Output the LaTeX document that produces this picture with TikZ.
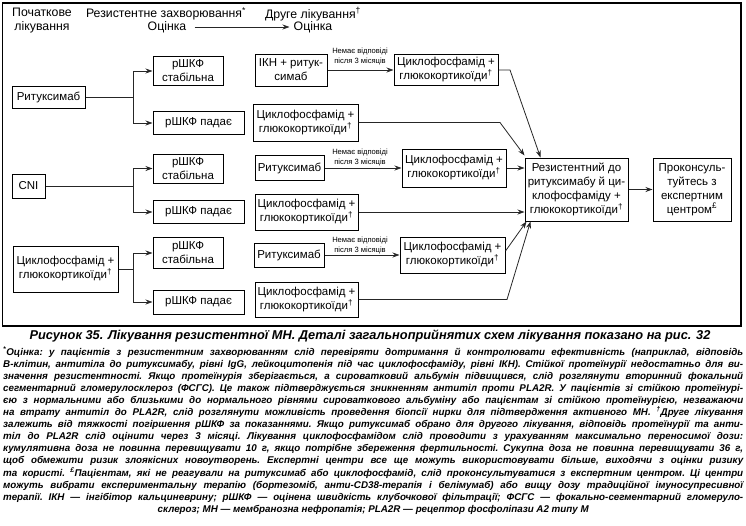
\documentclass[tikz,border=0pt]{standalone}
\usepackage{fontspec}
\setmainfont{Liberation Sans}
\usetikzlibrary{arrows.meta}
\newcommand\fl[1]{\makebox[740pt][s]{#1}\par}
\begin{document}
\begin{tikzpicture}[x=1pt,y=-1pt,
  bx/.style={draw, line width=1pt, align=center, inner sep=0pt, font=\fontsize{11.5}{14}\selectfont},
  hdr/.style={align=center, inner sep=1pt, font=\fontsize{12.3}{13.5}\selectfont},
  con/.style={line width=0.8pt, draw=black!85},
  arr/.style={con, -{Stealth[length=7pt,width=5pt]}},
  lbl/.style={align=center, inner sep=0pt, font=\fontsize{7.6}{10}\selectfont}]
\useasboundingbox (0,0) rectangle (746,525);
\draw[line width=1.3pt] (2.5,3) rectangle (741,326);
% header
\node[hdr] (h1) at (42,20.5) {Початкове\\лікування};
\node[hdr] (h2a) at (166,14) {Резистентне захворювання\textsuperscript{*}};
\node[hdr] (h2b) at (167,27) {Оцінка};
\node[hdr] (h3a) at (313,14) {Друге лікування\textsuperscript{†}};
\node[hdr] (h3b) at (313,27) {Оцінка};
\draw[arr, shorten <=7pt, shorten >=3pt] (h2b) -- (h3b);
% left column
\node[bx, minimum width=73pt, minimum height=22pt] (rit0) at (48.5,97) {Ритуксимаб};
\node[bx, minimum width=33pt, minimum height=24pt] (cni) at (28.5,186) {CNI};
\node[bx, minimum width=105pt, minimum height=46pt] (cyc0) at (65.5,269) {Циклофосфамід +\\глюкокортикоїди\textsuperscript{†}};
% eGFR column
\node[bx, minimum width=70pt, minimum height=29pt] (s1) at (188,71) {рШКФ\\стабільна};
\node[bx, minimum width=91pt, minimum height=23pt] (f2) at (198.5,123) {рШКФ падає};
\node[bx, minimum width=70pt, minimum height=29pt] (s3) at (188,168.5) {рШКФ\\стабільна};
\node[bx, minimum width=91pt, minimum height=23pt] (f4) at (198.5,212) {рШКФ падає};
\node[bx, minimum width=70pt, minimum height=31pt] (s5) at (188,253) {рШКФ\\стабільна};
\node[bx, minimum width=91pt, minimum height=24pt] (f6) at (198.5,302) {рШКФ падає};
\coordinate (j1) at (133,97);
\coordinate (j2) at (133,186);
\coordinate (j3) at (133,269);
\draw[con] (rit0.east) -- (j1);
\draw[arr] (j1) |- (s1);
\draw[arr] (j1) |- (f2);
\draw[con] (cni.east) -- (j2);
\draw[arr] (j2) |- (s3);
\draw[arr] (j2) |- (f4);
\draw[con] (cyc0.east) -- (j3);
\draw[arr] (j3) |- (s5);
\draw[arr] (j3) |- (f6);
% middle column
\node[bx, minimum width=72pt, minimum height=32pt] (m1) at (291,70) {ІКН + ритук-\\симаб};
\node[bx, minimum width=105pt, minimum height=37pt] (m2) at (305.5,122.5) {Циклофосфамід +\\глюкокортикоїди\textsuperscript{†}};
\node[bx, minimum width=69pt, minimum height=25pt] (m3) at (289.5,168) {Ритуксимаб};
\node[bx, minimum width=103pt, minimum height=36pt] (m4) at (306.5,212) {Циклофосфамід +\\глюкокортикоїди\textsuperscript{†}};
\node[bx, minimum width=70pt, minimum height=24pt] (m5) at (289,255) {Ритуксимаб};
\node[bx, minimum width=103pt, minimum height=35pt] (m6) at (306.5,299.5) {Циклофосфамід +\\глюкокортикоїди\textsuperscript{†}};
% right column
\node[bx, minimum width=104pt, minimum height=31pt] (r1) at (446,70) {Циклофосфамід +\\глюкокортикоїди\textsuperscript{†}};
\node[bx, minimum width=104pt, minimum height=38pt] (r3) at (454,168) {Циклофосфамід +\\глюкокортикоїди\textsuperscript{†}};
\node[bx, minimum width=105pt, minimum height=36pt] (r5) at (452.5,255) {Циклофосфамід +\\глюкокортикоїди\textsuperscript{†}};
\node[lbl] (l1) at (360,57) {Немає відповіді\\після 3 місяців};
\node[lbl] (l3) at (360,157.5) {Немає відповіді\\після 3 місяців};
\node[lbl] (l5) at (360,245) {Немає відповіді\\після 3 місяців};
\draw[arr] (m1) -- (r1);
\draw[arr] (m3) -- (r3);
\draw[arr] (m5) -- (r5);
% final boxes
\node[bx, minimum width=103pt, minimum height=63pt] (res) at (576.5,189.5) {Резистентний до\\ритуксимабу й ци-\\клофосфаміду +\\глюкокортикоїди\textsuperscript{†}};
\node[bx, minimum width=78pt, minimum height=63pt] (pro) at (692,189.5) {Проконсуль-\\туйтесь з\\експертним\\центром\textsuperscript{£}};
\coordinate (k1) at (510,70);
\coordinate (k2) at (500,122.5);
\coordinate (k6) at (507,299.5);
\draw[arr] (r1.east) -- (k1) -- ([xshift=16pt]res.north west);
\draw[arr] (m2.east) -- (k2) -- ([yshift=2pt]res.north west);
\draw[arr] (r3.east) -- (r3.east -| res.west);
\draw[arr] (m4.east) -- (m4.east -| res.west);
\draw[arr] ([yshift=4pt]r5.east) -- ([xshift=2pt]res.south west);
\draw[arr] (m6.east) -- (k6) -- ([xshift=6pt]res.south west);
\draw[arr] (res) -- (pro);
% caption
\node[inner sep=0pt, font=\fontsize{12.8}{15}\selectfont\bfseries\itshape] (cap) at (370,336) {Рисунок 35. Лікування резистентної МН. Деталі загальноприйнятих схем лікування показано на рис. 32};
\node[anchor=north west, inner sep=0pt] (notes) at (3,346.5) {\parbox[t]{740pt}{\parindent=0pt\frenchspacing\fontsize{9.8}{12.1}\selectfont\bfseries\itshape
\fl{\textsuperscript{*}Оцінка: у пацієнтів з резистентним захворюванням слід перевіряти дотримання й контролювати ефективність (наприклад, відповідь}
\fl{B-клітин, антитіла до ритуксимабу, рівні IgG, лейкоцитопенія під час циклофосфаміду, рівні ІКН). Стійкої протеїнурії недостатньо для ви-}
\fl{значення резистентності. Якщо протеїнурія зберігається, а сироватковий альбумін підвищився, слід розглянути вторинний фокальний}
\fl{сегментарний гломерулосклероз (ФСГС). Це також підтверджується зникненням антитіл проти PLA2R. У пацієнтів зі стійкою протеїнурі-}
\fl{єю з нормальними або близькими до нормального рівнями сироваткового альбуміну або пацієнтам зі стійкою протеїнурією, незважаючи}
\fl{на втрату антитіл до PLA2R, слід розглянути можливість проведення біопсії нирки для підтвердження активного МН. \textsuperscript{†}Друге лікування}
\fl{залежить від тяжкості погіршення рШКФ за показаннями. Якщо ритуксимаб обрано для другого лікування, відповідь протеїнурії та анти-}
\fl{тіл до PLA2R слід оцінити через 3 місяці. Лікування циклофосфамідом слід проводити з урахуванням максимально переносимої дози:}
\fl{кумулятивна доза не повинна перевищувати 10 г, якщо потрібне збереження фертильності. Сукупна доза не повинна перевищувати 36 г,}
\fl{щоб обмежити ризик злоякісних новоутворень. Експертні центри все ще можуть використовувати більше, виходячи з оцінки ризику}
\fl{та користі. \textsuperscript{£}Пацієнтам, які не реагували на ритуксимаб або циклофосфамід, слід проконсультуватися з експертним центром. Ці центри}
\fl{можуть вибрати експериментальну терапію (бортезоміб, анти-CD38-терапія і белімумаб) або вищу дозу традиційної імуносупресивної}
\fl{терапії. ІКН — інгібітор кальциневрину; рШКФ — оцінена швидкість клубочкової фільтрації; ФСГС — фокально-сегментарний гломеруло-}
\makebox[740pt][c]{склероз; МН — мембранозна нефропатія; PLA2R — рецептор фосфоліпази A2 типу M}\par}};
\end{tikzpicture}
\end{document}
